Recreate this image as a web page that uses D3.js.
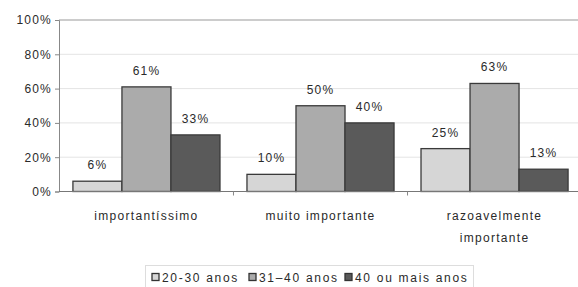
<!DOCTYPE html>
<html><head><meta charset="utf-8">
<script src="https://cdn.jsdelivr.net/npm/d3@7/dist/d3.min.js"></script>
<style>
body{margin:0;background:#fff;}
text{font-family:"Liberation Sans",Arial,sans-serif;fill:#2a2a2a;}
</style></head>
<body><svg id="c" width="578" height="287"></svg>
<script>
const categories = [["importantíssimo"], ["muito importante"], ["razoavelmente", "importante"]];
const seriesNames = ["20-30 anos", "31–40 anos", "40 ou mais anos"];
const values20_30 = [6, 10, 25];
const values31_40 = [61, 50, 63];
const values40plus = [33, 40, 13];
const yTicks = [0, 20, 40, 60, 80, 100];
const colors = ["#d6d6d6", "#ababab", "#5a5a5a"];

const series = [values20_30, values31_40, values40plus];
const svg = d3.select("#c");
const m = {l: 59, t: 20, r: 582, b: 191.5};
const x0 = d3.scaleBand().domain(d3.range(categories.length)).range([m.l, m.r]).paddingInner(0.155).paddingOuter(0.08);
const x1 = d3.scaleBand().domain(d3.range(series.length)).range([0, x0.bandwidth()]);
const y = d3.scaleLinear().domain([0, 100]).range([m.b, m.t]);
const LS = "1.2px";

// gridlines
svg.append("g").selectAll("line").data(yTicks.filter(d => d > 0)).join("line")
  .attr("x1", m.l).attr("x2", m.r).attr("y1", d => y(d)).attr("y2", d => y(d))
  .attr("stroke", d => d === 100 ? "#9a9a9a" : "#e4e4e4").attr("stroke-width", d => d === 100 ? 1.2 : 1);

// y axis
const ya = svg.append("g").attr("transform", `translate(${m.l},0)`)
  .call(d3.axisLeft(y).tickValues(yTicks).tickFormat(d => d + "%").tickSize(4).tickPadding(3));
ya.select(".domain").attr("stroke", "#888");
ya.selectAll(".tick line").attr("stroke", "#888");
ya.selectAll("text").attr("font-size", "12px").attr("letter-spacing", LS).attr("fill", "#2a2a2a").attr("font-family", '"Liberation Sans",Arial,sans-serif');

// bars
const g = svg.append("g");
series.forEach((vals, si) => {
  g.selectAll(".b" + si).data(vals).join("rect")
    .attr("x", (d, i) => x0(i) + x1(si)).attr("y", d => y(d))
    .attr("width", x1.bandwidth()).attr("height", d => y(0) - y(d))
    .attr("fill", colors[si]).attr("stroke", "#3a3a3a").attr("stroke-width", 1.3);
  g.selectAll(".l" + si).data(vals).join("text")
    .attr("x", (d, i) => x0(i) + x1(si) + x1.bandwidth() / 2).attr("y", d => y(d) - 12)
    .attr("text-anchor", "middle").attr("font-size", "12px").attr("letter-spacing", LS)
    .text(d => d + "%");
});

// x axis
svg.append("line").attr("x1", m.l).attr("x2", m.r).attr("y1", y(0)).attr("y2", y(0)).attr("stroke", "#777").attr("stroke-width", 1.2);
const step = x0.step();
[1, 2].forEach(i => {
  const xx = x0(i) - x0.paddingInner() * step / 2;
  svg.append("line").attr("x1", xx).attr("x2", xx).attr("y1", y(0)).attr("y2", y(0) + 4).attr("stroke", "#888");
});
categories.forEach((lines, i) => {
  const t = svg.append("text").attr("x", x0(i) + x0.bandwidth() / 2).attr("y", 220)
    .attr("text-anchor", "middle").attr("font-size", "12px").attr("letter-spacing", "1.3px");
  lines.forEach((ln, k) => t.append("tspan").attr("x", x0(i) + x0.bandwidth() / 2).attr("dy", k ? 22 : 0).text(ln));
});

// legend
const lg = svg.append("g");
lg.append("rect").attr("x", 145.5).attr("y", 265.5).attr("width", 328).attr("height", 30).attr("fill", "none").attr("stroke", "#ddd");
const legX = [152, 249, 345];
seriesNames.forEach((n, i) => {
  lg.append("rect").attr("x", legX[i]).attr("y", 273.5).attr("width", 7).attr("height", 7)
    .attr("fill", colors[i]).attr("stroke", "#333").attr("stroke-width", 1.3);
  lg.append("text").attr("x", legX[i] + 10).attr("y", 282).attr("font-size", "12px").attr("letter-spacing", "1.7px").text(n);
});
</script></body></html>
